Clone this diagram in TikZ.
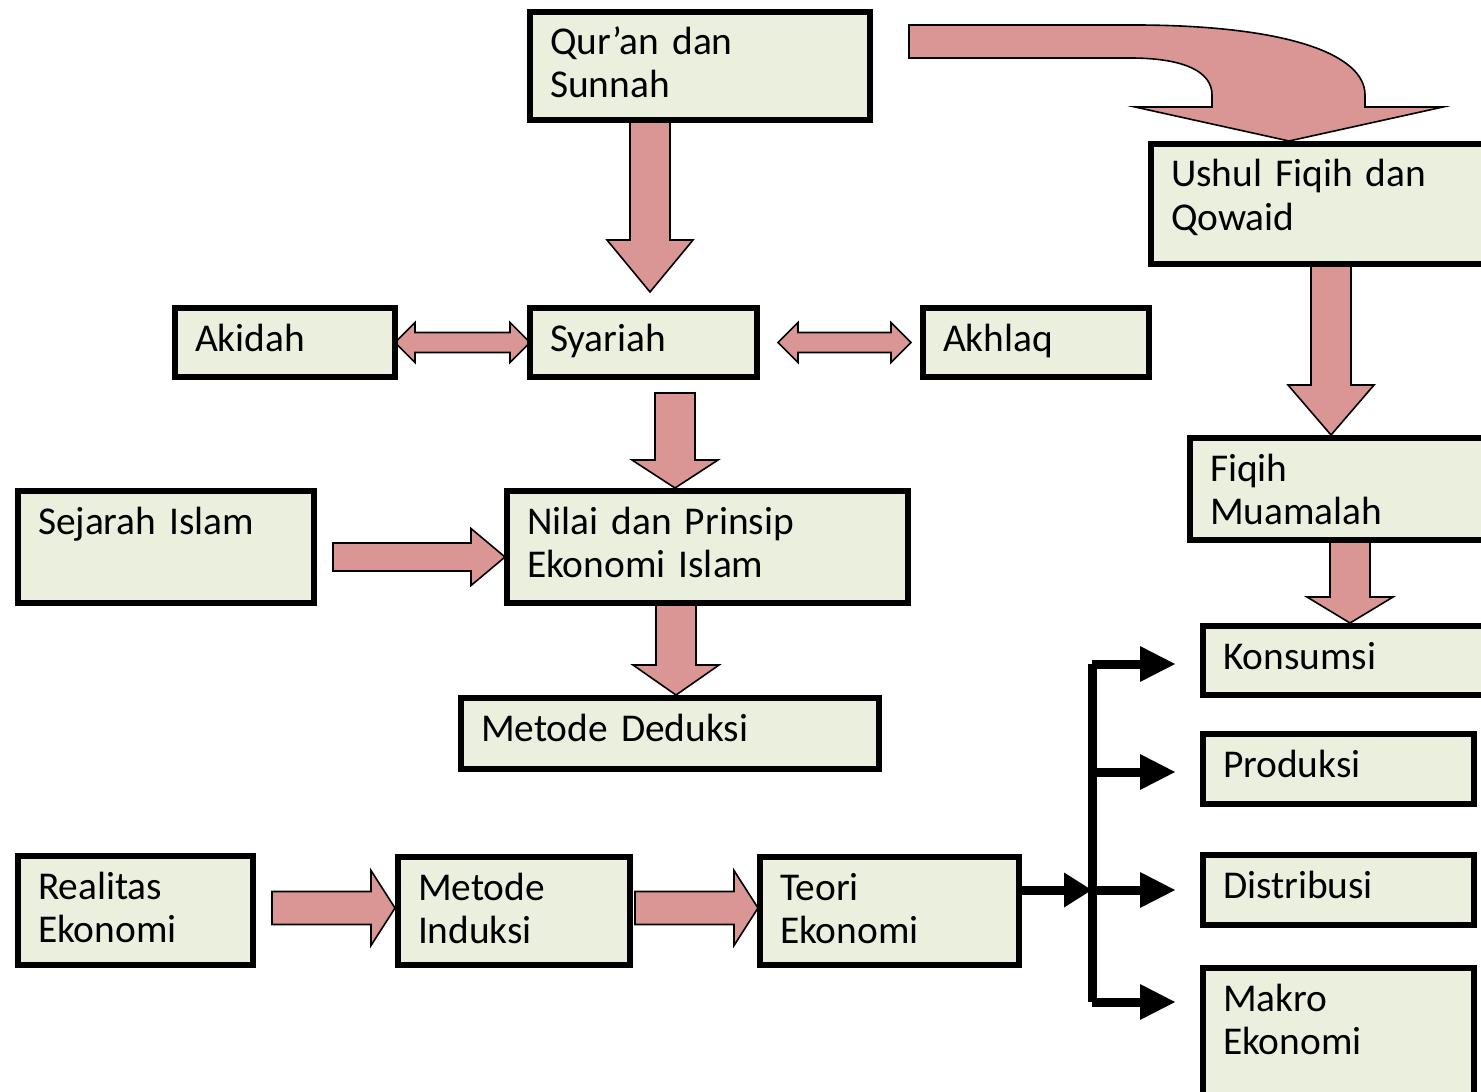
\documentclass[tikz,border=0pt]{standalone}
\usepackage{fontspec}
\setmainfont{Carlito}
\usepackage{xcolor}
\usetikzlibrary{arrows.meta,calc,backgrounds}

\definecolor{boxfill}{HTML}{EBF0DE}
\definecolor{arrowfill}{HTML}{D99694}

\tikzset{
  ebox/.style={draw, line width=3pt, fill=boxfill, anchor=north west, outer sep=0pt,
    inner xsep=10pt, inner ysep=5pt, align=left, text height=16.5pt,
    font=\fontsize{19.7}{21.5}\selectfont},
  blockarrow/.style={draw=black, line width=0.8pt, fill=arrowfill, line join=miter},
  bus/.style={line width=4.5pt, line cap=butt}
}

% block arrow pointing down: start, tip, head length
\newcommand{\downblock}[3]{%
  \draw[blockarrow] let \p1=(#1), \p2=(#2) in
    (\x2-10pt,\y1) -- (\x2-10pt,\y2+#3) -- (\x2-21.5pt,\y2+#3) -- (\x2,\y2)
    -- (\x2+21.5pt,\y2+#3) -- (\x2+10pt,\y2+#3) -- (\x2+10pt,\y1) -- cycle;}
% block arrow pointing right: start, tip, shaft half, head half, head length
\newcommand{\rightblock}[5]{%
  \draw[blockarrow] let \p1=(#1), \p2=(#2) in
    (\x1,\y2+#3) -- (\x2-#5,\y2+#3) -- (\x2-#5,\y2+#4) -- (\x2,\y2)
    -- (\x2-#5,\y2-#4) -- (\x2-#5,\y2-#3) -- (\x1,\y2-#3) -- cycle;}
% double block arrow: left tip, right tip
\newcommand{\bothblock}[2]{%
  \draw[blockarrow] let \p1=(#1), \p2=(#2) in
    (\x1,\y1) -- (\x1+10pt,\y1+10pt) -- (\x1+10pt,\y1+5pt) -- (\x2-10pt,\y1+5pt)
    -- (\x2-10pt,\y1+10pt) -- (\x2,\y1) -- (\x2-10pt,\y1-10pt) -- (\x2-10pt,\y1-5pt)
    -- (\x1+10pt,\y1-5pt) -- (\x1+10pt,\y1-10pt) -- cycle;}

\begin{document}
\begin{tikzpicture}[x=0.5pt,y=-0.5pt]
\useasboundingbox (0,0) rectangle (1481,1091);
\clip (0,0) rectangle (1481,1091);

% boxes
\node[ebox, text width=150pt, text depth=27.5pt] (quran) at (530,12) {Qur’an dan\\Sunnah};
\node[ebox, text width=154.5pt, text depth=33.5pt] (ushul) at (1151,144) {Ushul Fiqih dan\\Qowaid};
\node[ebox, text width=90pt, text depth=8pt] (akidah) at (175,308) {Akidah};
\node[ebox, text width=93.5pt, text depth=8pt] (syariah) at (530,308) {Syariah};
\node[ebox, text width=93pt, text depth=8pt] (akhlaq) at (923,308) {Akhlaq};
\node[ebox, text width=135pt, text depth=24.5pt] (fiqih) at (1190,438) {Fiqih\\Muamalah};
\node[ebox, text width=128pt, text depth=29.5pt] (sejarah) at (18,491) {Sejarah Islam};
\node[ebox, text width=180.5pt, text depth=29.5pt] (nilai) at (507,491) {Nilai dan Prinsip\\Ekonomi Islam};
\node[ebox, text width=128.5pt, text depth=8pt] (konsumsi) at (1203,626) {Konsumsi};
\node[ebox, text width=189pt, text depth=9pt] (deduksi) at (461,698) {Metode Deduksi};
\node[ebox, text width=115.5pt, text depth=8.5pt] (produksi) at (1203,734) {Produksi};
\node[ebox, text width=97.5pt, text depth=28pt] (realitas) at (18,856) {Realitas\\Ekonomi};
\node[ebox, text width=96pt, text depth=27.5pt] (induksi) at (398,857) {Metode\\Induksi};
\node[ebox, text width=109.5pt, text depth=27.5pt] (teori) at (760,857) {Teori\\Ekonomi};
\node[ebox, text width=115.5pt, text depth=8.5pt] (distribusi) at (1203,855) {Distribusi};
\node[ebox, text width=115.5pt, text depth=39.5pt] (makro) at (1203,968) {Makro\\Ekonomi};

% arrow tips
\coordinate (tsy) at (650,292);
\coordinate (tni) at (675,488);
\coordinate (tde) at (676,695);
\coordinate (tus) at (1289,141);
\coordinate (tfi) at (1331,435);
\coordinate (tko) at (1350,623);
\coordinate (tse) at (505,557);
\coordinate (tin) at (395,908);
\coordinate (tte) at (758,908);

\begin{pgfonlayer}{background}
\downblock{quran.south}{tsy}{26pt}
\downblock{$(syariah.south)+(0,16)$}{tni}{14pt}
\downblock{nilai.south}{tde}{15pt}
\downblock{ushul.south}{tfi}{25pt}
\downblock{fiqih.south}{tko}{13pt}
\rightblock{$(sejarah.east)+(19,0)$}{tse}{7pt}{14.25pt}{17pt}
\rightblock{$(realitas.east)+(19,0)$}{tin}{8.25pt}{18.75pt}{12pt}
\rightblock{$(induksi.east)+(5,0)$}{tte}{8.25pt}{18.75pt}{12pt}
\bothblock{akidah.east}{syariah.west}
\bothblock{$(syariah.east)+(21,0)$}{$(akhlaq.west)+(-12,0)$}
% bent arrow to ushul
\draw[blockarrow] (909,25) -- (1140,25) .. controls (1290,26) and (1365,55) .. (1365,95)
  -- (1365,107) -- (1443,107) -- (tus) -- (1135,107) -- (1212,107) -- (1212,95)
  .. controls (1212,72) and (1185,58) .. (1130,58) -- (909,58) -- cycle;
\end{pgfonlayer}

% teori to the four fields
\coordinate (jn) at (1092,890);
\coordinate (bk) at (1176,664);
\coordinate (bp) at (1176,772);
\coordinate (bd) at (1176,890);
\coordinate (bm) at (1176,1002);
\draw[bus,-{Triangle[length=14pt,width=16.5pt]}] (teori.east |- jn) -- (jn);
\draw[bus,line cap=square] (jn |- bk) -- (jn |- bm);
\foreach \b in {bk,bp,bd,bm}
  \draw[bus,-{Triangle[length=18pt,width=16.5pt]}] (jn |- \b) -- (\b);
\end{tikzpicture}
\end{document}
